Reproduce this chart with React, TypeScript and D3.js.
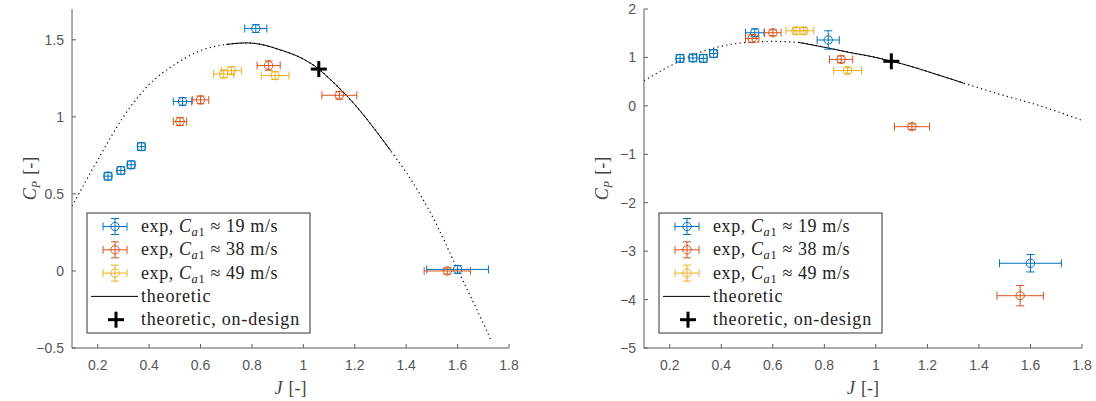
import React from 'react';
import * as d3 from 'd3';

// colours MATLAB uses by default
const BLUE = '#0072BD';
const ORANGE = '#D95319';
const YELLOW = '#EDB120';

// advance ratio J of the measured points (same in both panels)
const blueJ = [0.24, 0.29, 0.33, 0.37, 0.53, 0.815, 1.6];
const blueJErr = [0.015, 0.015, 0.015, 0.015, 0.036, 0.043, 0.12];
const orangeJ = [0.52, 0.6, 0.865, 1.14, 1.56];
const orangeJErr = [0.026, 0.032, 0.045, 0.068, 0.09];
const yellowJ = [0.69, 0.72, 0.89];
const yellowJErr = [0.039, 0.039, 0.054];

// left panel, C_P
const leftBlueCp = [0.615, 0.652, 0.689, 0.807, 1.1, 1.573, 0.01];
const leftBlueErr = [0.025, 0.025, 0.025, 0.025, 0.025, 0.025, 0.025];
const leftOrangeCp = [0.97, 1.11, 1.333, 1.14, 0.0];
const leftOrangeErr = [0.025, 0.025, 0.03, 0.025, 0.02];
const leftYellowCp = [1.278, 1.3, 1.268];
const leftYellowErr = [0.025, 0.025, 0.025];

// right panel, C_P
const rightBlueCp = [0.98, 0.99, 0.98, 1.08, 1.51, 1.36, -3.25];
const rightBlueErr = [0.08, 0.08, 0.08, 0.08, 0.08, 0.19, 0.18];
const rightOrangeCp = [1.39, 1.51, 0.96, -0.43, -3.92];
const rightOrangeErr = [0.08, 0.06, 0.07, 0.06, 0.21];
const rightYellowCp = [1.55, 1.55, 0.73];
const rightYellowErr = [0.07, 0.07, 0.06];

// theoretic curves
const leftTheoryJ = [0.1, 0.2, 0.3, 0.4, 0.5, 0.6, 0.7, 0.78, 0.85, 0.9, 1.0, 1.06, 1.1, 1.2, 1.3, 1.34, 1.4, 1.5, 1.6, 1.7, 1.73];
const leftTheoryCp = [0.42, 0.72, 1.0, 1.21, 1.34, 1.43, 1.47, 1.48, 1.465, 1.44, 1.375, 1.31, 1.25, 1.08, 0.87, 0.78, 0.64, 0.36, 0.01, -0.34, -0.45];
const rightTheoryJ = [0.1, 0.2, 0.3, 0.4, 0.5, 0.6, 0.7, 0.8, 0.9, 1.0, 1.06, 1.1, 1.2, 1.3, 1.34, 1.4, 1.5, 1.6, 1.7, 1.8];
const rightTheoryCp = [0.52, 0.82, 1.07, 1.23, 1.31, 1.33, 1.31, 1.21, 1.1, 1.0, 0.92, 0.87, 0.71, 0.54, 0.47, 0.37, 0.21, 0.06, -0.11, -0.3];
const solidRange = [0.7, 1.34];

const onDesignJ = 1.06;
const leftOnDesignCp = 1.31;
const rightOnDesignCp = 0.92;

const xTicks = [0.2, 0.4, 0.6, 0.8, 1, 1.2, 1.4, 1.6, 1.8];
const leftYTicks = [-0.5, 0, 0.5, 1, 1.5];
const rightYTicks = [-5, -4, -3, -2, -1, 0, 1, 2];

const legendSpeeds = ['19', '38', '49'];

const zip = (j, cp, jErr, cpErr) => j.map((v, i) => ({ j: v, cp: cp[i], jErr: jErr[i], cpErr: cpErr[i] }));

const SERIF = '"Liberation Serif", "Times New Roman", serif';
const SANS = '"Liberation Sans", Arial, sans-serif';
const AXIS = '#5a5a5a';

const ErrorPoint = ({ x, y, x0, x1, y0, y1, color }) => (
  <g stroke={color} strokeWidth={1} fill="none">
    <line x1={x0} x2={x1} y1={y} y2={y} />
    <line x1={x0} x2={x0} y1={y - 4} y2={y + 4} />
    <line x1={x1} x2={x1} y1={y - 4} y2={y + 4} />
    <line x1={x} x2={x} y1={y0} y2={y1} />
    <line x1={x - 4} x2={x + 4} y1={y0} y2={y0} />
    <line x1={x - 4} x2={x + 4} y1={y1} y2={y1} />
    <circle cx={x} cy={y} r={4.2} />
  </g>
);

const Plus = ({ x, y }) => (
  <g stroke="#000" strokeWidth={3}>
    <line x1={x - 8} x2={x + 8} y1={y} y2={y} />
    <line x1={x} x2={x} y1={y - 8} y2={y + 8} />
  </g>
);

const Panel = ({ id, xRange, yDomain, yTicks, series, theoryJ, theoryCp, onDesignCp }) => {
  const x = d3.scaleLinear().domain([0.1, 1.8]).range(xRange);
  const y = d3.scaleLinear().domain(yDomain).range([348, 9]);
  const [left, right] = xRange;
  const top = 9, bottom = 348;

  const theory = theoryJ.map((j, i) => [j, theoryCp[i]]);
  const line = d3.line().x(d => x(d[0])).y(d => y(d[1])).curve(d3.curveMonotoneX);
  const solid = theory.filter(d => d[0] >= solidRange[0] - 1e-9 && d[0] <= solidRange[1] + 1e-9);

  const lx = left + 15, ly = 213, lw = 223, lh = 120;
  const rowY = (i) => ly + 13.5 + i * 23.3;
  const iconX = lx + 28;
  const textX = lx + 54;

  const axisLabelY = (left + right) / 2;
  const midY = (top + bottom) / 2;

  return (
    <g>
      <defs>
        <clipPath id={`clip-${id}`}>
          <rect x={left} y={top} width={right - left} height={bottom - top} />
        </clipPath>
      </defs>

      {/* theoretic curve: dotted off-design, solid near design */}
      <g clipPath={`url(#clip-${id})`} fill="none" stroke="#000">
        <path d={line(theory)} strokeWidth={1.2} strokeDasharray="1.2 3.3" />
        <path d={line(solid)} strokeWidth={1} />
      </g>

      {series.map(s => s.points.map((p, i) => (
        <ErrorPoint key={s.color + i} color={s.color}
          x={x(p.j)} y={y(p.cp)}
          x0={x(p.j - p.jErr)} x1={x(p.j + p.jErr)}
          y0={y(p.cp + p.cpErr)} y1={y(p.cp - p.cpErr)} />
      )))}

      <Plus x={x(onDesignJ)} y={y(onDesignCp)} />

      {/* axes */}
      <line x1={left} x2={right} y1={bottom} y2={bottom} stroke={AXIS} />
      <line x1={left} x2={left} y1={top} y2={bottom} stroke={AXIS} />
      {xTicks.map(t => (
        <g key={'x' + t}>
          <line x1={x(t)} x2={x(t)} y1={bottom} y2={bottom - 4} stroke={AXIS} />
          <text x={x(t)} y={370} textAnchor="middle" fontFamily={SANS} fontSize={14} fill="#555">{d3.format('~g')(t)}</text>
        </g>
      ))}
      {yTicks.map(t => (
        <g key={'y' + t}>
          <line x1={left} x2={left + 4} y1={y(t)} y2={y(t)} stroke={AXIS} />
          <text x={left - 8} y={y(t) + 5} textAnchor="end" fontFamily={SANS} fontSize={14} fill="#555">{d3.format('~g')(t)}</text>
        </g>
      ))}

      <text x={axisLabelY} y={394} textAnchor="middle" fontFamily={SERIF} fontSize={18} fill="#444">
        <tspan fontStyle="italic">J</tspan>
        <tspan dx={6}>[-]</tspan>
      </text>
      <text transform={`translate(${left - 36},${midY}) rotate(-90)`} textAnchor="middle" fontFamily={SERIF} fontSize={18} fill="#444">
        <tspan fontStyle="italic">C</tspan>
        <tspan fontStyle="italic" fontSize={12} dy={4}>P</tspan>
        <tspan dy={-4} dx={6}>[-]</tspan>
      </text>

      {/* legend */}
      <rect x={lx} y={ly} width={lw} height={lh} fill="#fff" stroke="#333" strokeWidth={1} />
      {series.map((s, i) => (
        <g key={'leg' + i}>
          <ErrorPoint color={s.color} x={iconX} y={rowY(i)} x0={iconX - 12} x1={iconX + 12} y0={rowY(i) - 8} y1={rowY(i) + 8} />
          <text x={textX} y={rowY(i) + 5.5} fontFamily={SERIF} fontSize={18} letterSpacing={0.6} fill="#222">
            exp, <tspan fontStyle="italic">C</tspan>
            <tspan fontSize={12.5} dy={4}><tspan fontStyle="italic">a</tspan>1</tspan>
            <tspan dy={-4}> ≈ {legendSpeeds[i]} m/s</tspan>
          </text>
        </g>
      ))}
      <line x1={lx + 4} x2={lx + 51} y1={rowY(3)} y2={rowY(3)} stroke="#000" />
      <text x={textX} y={rowY(3) + 5.5} fontFamily={SERIF} fontSize={18} letterSpacing={0.8} fill="#222">theoretic</text>
      <Plus x={iconX + 1} y={rowY(4)} />
      <text x={textX} y={rowY(4) + 5.5} fontFamily={SERIF} fontSize={18} letterSpacing={0.8} fill="#222">theoretic, on-design</text>
    </g>
  );
};

export default function App() {
  const leftSeries = [
    { color: BLUE, points: zip(blueJ, leftBlueCp, blueJErr, leftBlueErr) },
    { color: ORANGE, points: zip(orangeJ, leftOrangeCp, orangeJErr, leftOrangeErr) },
    { color: YELLOW, points: zip(yellowJ, leftYellowCp, yellowJErr, leftYellowErr) },
  ];
  const rightSeries = [
    { color: BLUE, points: zip(blueJ, rightBlueCp, blueJErr, rightBlueErr) },
    { color: ORANGE, points: zip(orangeJ, rightOrangeCp, orangeJErr, rightOrangeErr) },
    { color: YELLOW, points: zip(yellowJ, rightYellowCp, yellowJErr, rightYellowErr) },
  ];
  return (
    <svg width={1096} height={401} style={{ position: 'absolute', left: 0, top: 0, background: '#fff' }}>
      <Panel id="l" xRange={[72, 509]} yDomain={[-0.5, 1.7]} yTicks={leftYTicks}
        series={leftSeries} theoryJ={leftTheoryJ} theoryCp={leftTheoryCp} onDesignCp={leftOnDesignCp} />
      <Panel id="r" xRange={[644, 1082]} yDomain={[-5, 2]} yTicks={rightYTicks}
        series={rightSeries} theoryJ={rightTheoryJ} theoryCp={rightTheoryCp} onDesignCp={rightOnDesignCp} />
    </svg>
  );
}
